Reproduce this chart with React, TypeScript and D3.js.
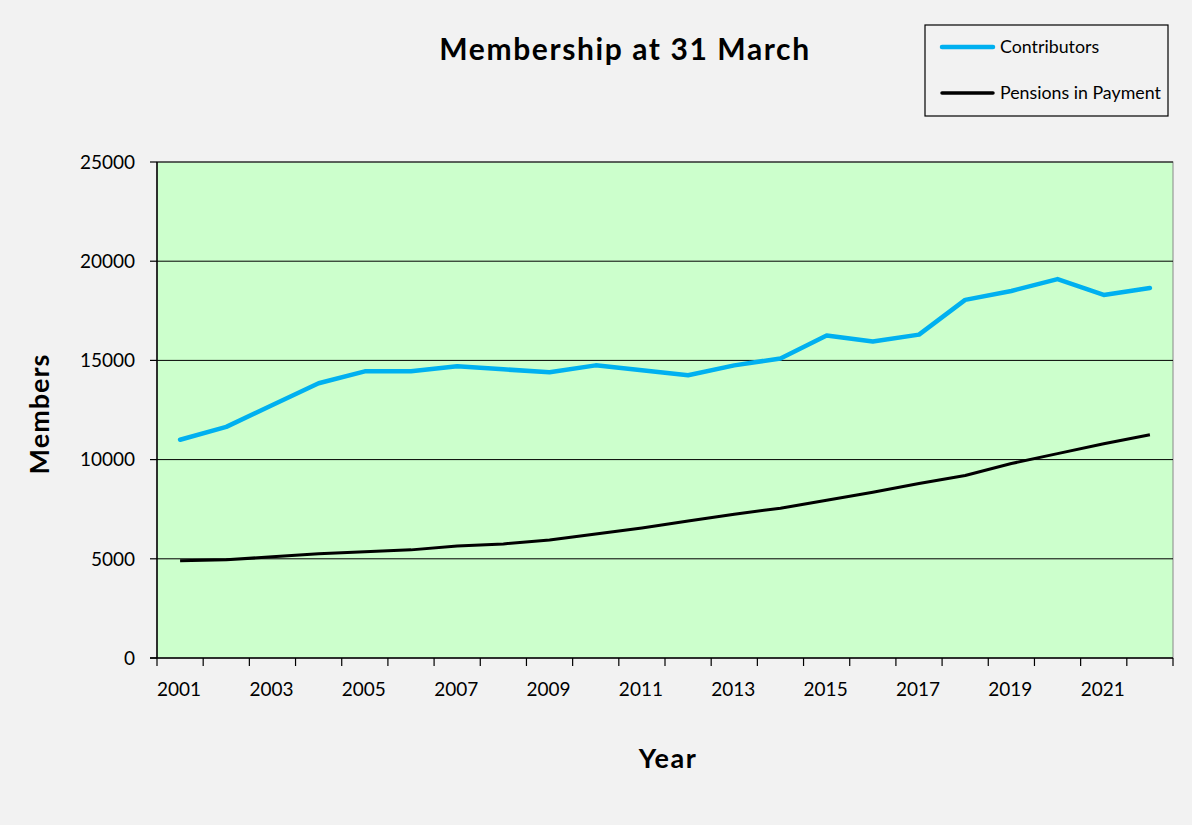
import React from "react";
import * as d3 from "d3";

const years = [2001,2002,2003,2004,2005,2006,2007,2008,2009,2010,2011,2012,2013,2014,2015,2016,2017,2018,2019,2020,2021,2022];
const contributors = [11000,11650,12750,13850,14450,14450,14700,14550,14400,14750,14500,14250,14750,15100,16250,15950,16300,18050,18500,19100,18300,18650];
const pensions = [4900,4950,5100,5250,5350,5450,5650,5750,5950,6250,6550,6900,7250,7550,7950,8350,8800,9200,9800,10300,10800,11250];
const yTicks = [0,5000,10000,15000,20000,25000];
const xLabelYears = [2001,2003,2005,2007,2009,2011,2013,2015,2017,2019,2021];

const W = 1192, H = 825;
const L = 157, R = 1173, T = 162, B = 658;
const FONT = "Lato, 'Open Sans', sans-serif";

export default function App() {
  const x = d3.scaleBand<number>().domain(years).range([L, R]).padding(0);
  const y = d3.scaleLinear().domain([0, 25000]).range([B, T]);
  const cx = (yr: number) => (x(yr) as number) + x.bandwidth() / 2;
  const line = (vals: number[]) =>
    d3.line<number>().x((_, i) => cx(years[i])).y((v) => y(v))(vals) as string;
  const tickXs = years.map((yr) => x(yr) as number).concat([R]);

  return (
    <svg width={W} height={H} style={{ position: "absolute", left: 0, top: 0, display: "block" }} fontFamily={FONT}>
      <rect x={0} y={0} width={W} height={H} fill="#F2F2F2" />
      <rect x={L} y={T} width={R - L} height={B - T} fill="#CCFFCC" stroke="#888" strokeWidth={1} />
      {yTicks.filter((t) => t > 0).map((t) => (
        <line key={t} x1={L} x2={R} y1={y(t)} y2={y(t)} stroke="#000" strokeWidth={1} />
      ))}
      <line x1={L} x2={L} y1={T} y2={B} stroke="#000" strokeWidth={1.5} />
      <line x1={L - 7} x2={R} y1={B} y2={B} stroke="#000" strokeWidth={1.5} />
      {yTicks.map((t) => (
        <g key={t}>
          <line x1={L - 7} x2={L} y1={y(t)} y2={y(t)} stroke="#000" strokeWidth={1.2} />
          <text x={L - 22} y={y(t)} dy="0.36em" textAnchor="end" fontSize={19} fill="#000">{t}</text>
        </g>
      ))}
      {tickXs.map((tx, i) => (
        <line key={i} x1={tx} x2={tx} y1={B} y2={B + 8} stroke="#000" strokeWidth={1.2} />
      ))}
      {xLabelYears.map((yr) => (
        <text key={yr} x={cx(yr) - 1} y={696} textAnchor="middle" fontSize={19} fill="#000">{yr}</text>
      ))}
      <path d={line(pensions)} fill="none" stroke="#000" strokeWidth={3} strokeLinejoin="round" />
      <path d={line(contributors)} fill="none" stroke="#00B0F0" strokeWidth={4.5} strokeLinejoin="round" strokeLinecap="round" />
      <text x={625} y={60} textAnchor="middle" fontSize={30} fontWeight="bold" letterSpacing={1.6} fill="#000">Membership at 31 March</text>
      <text x={668} y={768} textAnchor="middle" fontSize={27} fontWeight="bold" letterSpacing={1.5} fill="#000">Year</text>
      <text transform="translate(49,414) rotate(-90)" textAnchor="middle" fontSize={27} fontWeight="bold" letterSpacing={1} fill="#000">Members</text>
      <rect x={925} y={25} width={243} height={91} fill="none" stroke="#000" strokeWidth={1.2} />
      <line x1={942} x2={993} y1={47} y2={47} stroke="#00B0F0" strokeWidth={4.5} strokeLinecap="round" />
      <text x={1000} y={47} dy="0.35em" fontSize={17.8} fill="#000">Contributors</text>
      <line x1={942} x2={993} y1={93} y2={93} stroke="#000" strokeWidth={3.5} strokeLinecap="round" />
      <text x={1000} y={93} dy="0.35em" fontSize={17.8} fill="#000">Pensions in Payment</text>
    </svg>
  );
}
